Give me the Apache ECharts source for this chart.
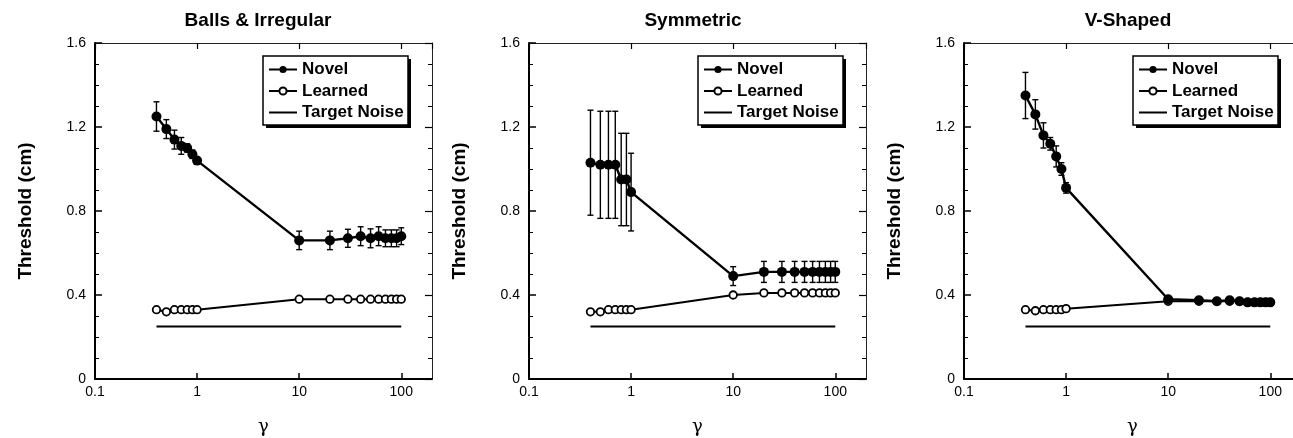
<!DOCTYPE html>
<html>
<head>
<meta charset="utf-8">
<script src="https://cdn.jsdelivr.net/npm/echarts@6/dist/echarts.min.js"></script>
<style>
  html, body { margin: 0; padding: 0; background: #fff; }
  #chart { width: 1293px; height: 438px; }
</style>
</head>
<body>
<div id="chart"></div>
<script>
// gamma values (x axis, log scale)
const gammas = [0.4, 0.5, 0.6, 0.7, 0.8, 0.9, 1, 10, 20, 30, 40, 50, 60, 70, 80, 90, 100]

// Balls & Irregular
const ballsNovel = [1.25, 1.19, 1.14, 1.11, 1.10, 1.07, 1.04, 0.66, 0.66, 0.67, 0.68, 0.67, 0.68, 0.67, 0.67, 0.67, 0.68]
const ballsNovelErr = [0.07, 0.045, 0.045, 0.04, 0.02, 0.02, 0.01, 0.044, 0.044, 0.043, 0.045, 0.045, 0.045, 0.04, 0.04, 0.04, 0.04]
const ballsLearned = [0.33, 0.32, 0.33, 0.33, 0.33, 0.33, 0.33, 0.38, 0.38, 0.38, 0.38, 0.38, 0.38, 0.38, 0.38, 0.38, 0.38]

// Symmetric
const symNovel = [1.03, 1.02, 1.02, 1.02, 0.95, 0.95, 0.89, 0.49, 0.51, 0.51, 0.51, 0.51, 0.51, 0.51, 0.51, 0.51, 0.51]
const symNovelErr = [0.25, 0.255, 0.255, 0.255, 0.22, 0.22, 0.185, 0.045, 0.05, 0.05, 0.05, 0.05, 0.05, 0.05, 0.05, 0.05, 0.05]
const symLearned = [0.32, 0.32, 0.33, 0.33, 0.33, 0.33, 0.33, 0.40, 0.41, 0.41, 0.41, 0.41, 0.41, 0.41, 0.41, 0.41, 0.41]

// V-Shaped
const vNovel = [1.35, 1.26, 1.16, 1.12, 1.06, 1.00, 0.91, 0.38, 0.375, 0.37, 0.375, 0.37, 0.365, 0.365, 0.365, 0.365, 0.365]
const vNovelErr = [0.11, 0.07, 0.06, 0.03, 0.05, 0.03, 0.025, 0.01, 0.01, 0.01, 0.01, 0.01, 0.01, 0.01, 0.01, 0.01, 0.01]
const vLearned = [0.33, 0.325, 0.33, 0.33, 0.33, 0.33, 0.335, 0.37, 0.37, 0.37, 0.37, 0.37, 0.365, 0.365, 0.365, 0.365, 0.365]

// target noise level and its gamma range
const noiseLevel = 0.25
const noiseRange = [0.4, 100]

const titles = ['Balls & Irregular', 'Symmetric', 'V-Shaped']
const legendNames = ['Novel', 'Learned', 'Target Noise']

const novelSets = [ballsNovel, symNovel, vNovel]
const errSets = [ballsNovelErr, symNovelErr, vNovelErr]
const learnedSets = [ballsLearned, symLearned, vLearned]

// layout of each panel (px)
const gridLeft = [95, 529, 964]
const titleX = [258, 693, 1128]
const legendLeft = [263, 698, 1133]

const font = '"Liberation Sans", Arial, Helvetica, sans-serif'

const chart = echarts.init(document.getElementById('chart'))

function pairs(ys) {
  return gammas.map((g, i) => [g, ys[i]])
}

function errorBars(params, api) {
  const x = api.value(0)
  const top = api.coord([x, api.value(2)])
  const bot = api.coord([x, api.value(1)])
  const cap = 3
  const style = { stroke: '#000', lineWidth: 1.4 }
  return {
    type: 'group',
    children: [
      { type: 'line', shape: { x1: top[0], y1: top[1], x2: bot[0], y2: bot[1] }, style },
      { type: 'line', shape: { x1: top[0] - cap, y1: top[1], x2: top[0] + cap, y2: top[1] }, style },
      { type: 'line', shape: { x1: bot[0] - cap, y1: bot[1], x2: bot[0] + cap, y2: bot[1] }, style },
    ],
  }
}

const grid = []
const xAxis = []
const yAxis = []
const series = []
const legend = []
const graphic = []

for (let i = 0; i < 3; i++) {
  grid.push({ left: gridLeft[i], top: 43, width: 337, height: 336, containLabel: false, outerBoundsMode: 'none' })

  // bottom x axis
  xAxis.push({
    type: 'log',
    logBase: 10,
    gridIndex: i,
    min: 0.1,
    max: 200,
    position: 'bottom',
    axisLine: { onZero: false, lineStyle: { color: '#000', width: 2 } },
    axisTick: { inside: true, length: 6, lineStyle: { color: '#000', width: 1.5 } },
    axisLabel: {
      color: '#000', fontSize: 14, fontFamily: font, margin: 6,
      showMaxLabel: false,
      formatter: v => String(+(+v).toPrecision(3)),
    },
    splitLine: { show: false },
    name: 'γ',
    nameLocation: 'middle',
    nameGap: 39,
    nameTextStyle: { color: '#000', fontSize: 18, fontFamily: '"DejaVu Serif", "Liberation Serif", serif' },
  })
  // top x axis (frame)
  xAxis.push({
    type: 'log',
    logBase: 10,
    gridIndex: i,
    min: 0.1,
    max: 200,
    position: 'top',
    axisLine: { onZero: false, lineStyle: { color: '#222', width: 1 } },
    axisTick: { inside: true, length: 6, lineStyle: { color: '#000', width: 1.2 } },
    axisLabel: { show: false },
    splitLine: { show: false },
  })

  // left y axis
  yAxis.push({
    type: 'value',
    gridIndex: i,
    min: 0,
    max: 1.6,
    interval: 0.4,
    axisLine: { show: true, onZero: false, lineStyle: { color: '#000', width: 2 } },
    axisTick: { show: true, inside: true, length: 7, lineStyle: { color: '#000', width: 1.5 } },
    minorTick: { show: true, splitNumber: 4, length: 4, lineStyle: { color: '#000', width: 1 } },
    axisLabel: {
      color: '#000', fontSize: 14, fontFamily: font, margin: 9,
      formatter: v => (v === 0 ? '0' : v.toFixed(1)),
    },
    splitLine: { show: false },
    name: 'Threshold (cm)',
    nameLocation: 'middle',
    nameRotate: 90,
    nameGap: 60,
    nameTextStyle: { color: '#000', fontSize: 19, fontWeight: 'bold', fontFamily: font },
  })
  // right y axis (frame)
  yAxis.push({
    type: 'value',
    gridIndex: i,
    min: 0,
    max: 1.6,
    interval: 0.4,
    position: 'right',
    axisLine: { show: true, onZero: false, lineStyle: { color: '#222', width: 1 } },
    axisTick: { show: true, inside: true, length: 7, lineStyle: { color: '#000', width: 1.2 } },
    minorTick: { show: true, splitNumber: 4, length: 4, lineStyle: { color: '#000', width: 1 } },
    axisLabel: { show: false },
    splitLine: { show: false },
  })

  series.push(
    {
      name: 'Target Noise',
      type: 'line',
      xAxisIndex: 2 * i,
      yAxisIndex: 2 * i,
      symbol: 'none',
      lineStyle: { color: '#000', width: 2 },
      itemStyle: { color: '#000' },
      data: noiseRange.map(g => [g, noiseLevel]),
      silent: true,
    },
    {
      name: 'Learned',
      type: 'line',
      xAxisIndex: 2 * i,
      yAxisIndex: 2 * i,
      symbol: 'circle',
      symbolSize: 7.5,
      lineStyle: { color: '#000', width: 2 },
      itemStyle: { color: '#fff', borderColor: '#000', borderWidth: 1.8 },
      data: pairs(learnedSets[i]),
      silent: true,
    },
    {
      name: 'err' + i,
      type: 'custom',
      xAxisIndex: 2 * i,
      yAxisIndex: 2 * i,
      renderItem: errorBars,
      data: gammas.map((g, k) => [g, novelSets[i][k] - errSets[i][k], novelSets[i][k] + errSets[i][k]]),
      silent: true,
      z: 3,
    },
    {
      name: 'Novel',
      type: 'line',
      xAxisIndex: 2 * i,
      yAxisIndex: 2 * i,
      symbol: 'circle',
      symbolSize: 10,
      lineStyle: { color: '#000', width: 2.4 },
      itemStyle: { color: '#000' },
      data: pairs(novelSets[i]),
      silent: true,
      z: 4,
    }
  )

  legend.push({
    orient: 'vertical',
    left: legendLeft[i],
    top: 56,
    data: [
      legendNames[0],
      legendNames[1],
      { name: legendNames[2], itemStyle: { opacity: 0 } },
    ],
    itemWidth: 28,
    itemHeight: 9,
    itemGap: 4.5,
    padding: [5, 0, 0, 5],
    selectedMode: false,
    z: 10,
    textStyle: { color: '#000', fontSize: 17, fontWeight: 'bold', fontFamily: font },
  })

  // legend frame with drop shadow
  graphic.push(
    {
      type: 'rect',
      z: 8,
      shape: { x: legendLeft[i] + 3, y: 59, width: 145, height: 69 },
      style: { fill: '#000' },
    },
    {
      type: 'rect',
      z: 9,
      shape: { x: legendLeft[i], y: 56, width: 145, height: 69 },
      style: { fill: '#fff', stroke: '#000', lineWidth: 1.5 },
    },
    {
      type: 'text',
      x: titleX[i],
      y: 21,
      style: {
        text: titles[i],
        fill: '#000',
        font: 'bold 19px ' + font,
        textAlign: 'center',
        textVerticalAlign: 'middle',
      },
    }
  )
}

chart.setOption({
  animation: false,
  backgroundColor: '#fff',
  grid,
  xAxis,
  yAxis,
  series,
  legend,
  graphic,
})
</script>
</body>
</html>
